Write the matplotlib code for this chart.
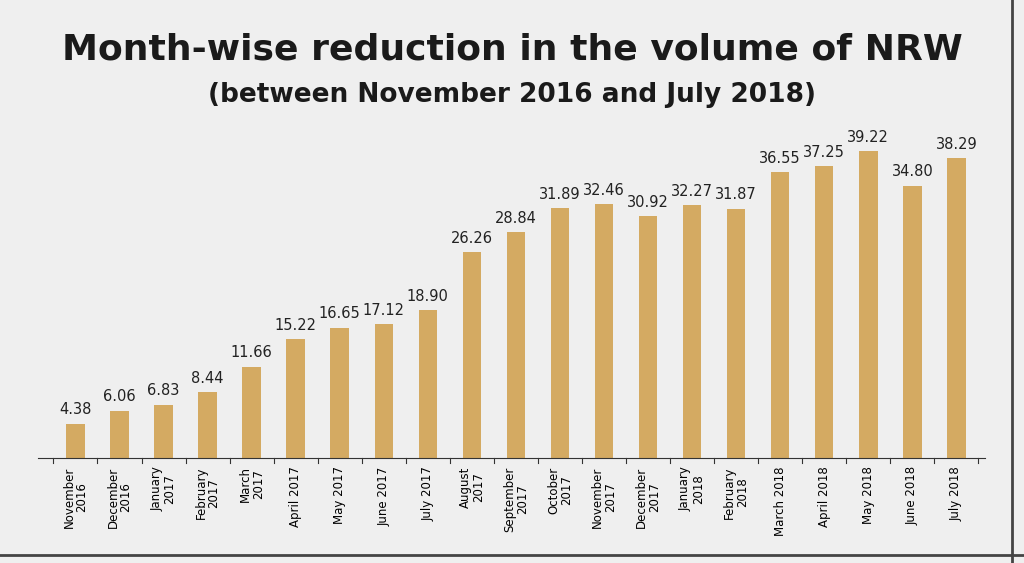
import matplotlib
matplotlib.use("Agg")
import matplotlib.pyplot as plt

labels = ["November\n2016","December\n2016","January\n2017","February\n2017","March\n2017","April 2017",
          "May 2017","June 2017","July 2017","August\n2017","September\n2017","October\n2017","November\n2017",
          "December\n2017","January\n2018","February\n2018","March 2018","April 2018","May 2018","June 2018","July 2018"]
values = [4.38,6.06,6.83,8.44,11.66,15.22,16.65,17.12,18.90,26.26,28.84,31.89,32.46,30.92,32.27,31.87,
          36.55,37.25,39.22,34.80,38.29]

bg = "#efefef"
fig = plt.figure(figsize=(10.24,5.63), dpi=100, facecolor=bg)
ax = fig.add_axes([38/1024, 105/563, 947/1024, 328/563])
ax.set_facecolor(bg)
x = range(len(values))
ax.bar(x, values, width=0.42, color="#d4aa62")
for i, v in zip(x, values):
    ax.text(i, v+0.8, f"{v:.2f}", ha="center", va="bottom", fontsize=10.5, color="#222222",
            family=["Liberation Sans Narrow", "DejaVu Sans"])
ax.set_xlim(-0.85, len(values)-0.35)
ax.set_ylim(0, 41.9)
ax.set_yticks([])
for s in ["top","right","left"]:
    ax.spines[s].set_visible(False)
ax.spines["bottom"].set_color("#333333")
ax.set_xticks(list(x))
ax.set_xticklabels(labels, rotation=90, fontsize=8.5, linespacing=1.0,
                   family=["Liberation Sans Narrow", "DejaVu Sans"])
ax.tick_params(axis="x", length=0, pad=6)
for i in range(len(values)+1):
    ax.plot([i-0.5, i-0.5], [0, -0.6], color="#333333", lw=0.8, clip_on=False)

fig.text(0.5, 1-50/563, "Month-wise reduction in the volume of NRW", ha="center", va="center",
         fontsize=26, fontweight="bold", color="#1a1a1a", family=["Liberation Sans Narrow", "DejaVu Sans"])
fig.text(0.5, 1-95/563, "(between November 2016 and July 2018)", ha="center", va="center",
         fontsize=19, fontweight="bold", color="#1a1a1a", family=["Liberation Sans Narrow", "DejaVu Sans"])
fig.add_artist(plt.Line2D([1012/1024,1012/1024],[0,1],color="#444444",lw=2,transform=fig.transFigure))
fig.add_artist(plt.Line2D([0,1],[8/563,8/563],color="#444444",lw=2,transform=fig.transFigure))
fig.savefig("out.png", dpi=100, facecolor=bg)
